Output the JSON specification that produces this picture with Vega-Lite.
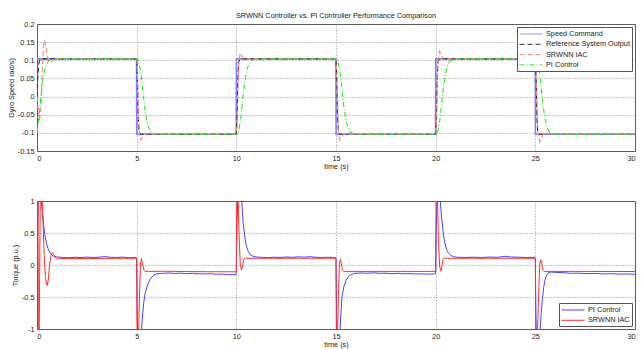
{
  "$schema": "https://vega.github.io/schema/vega-lite/v6.json",
  "background": "white",
  "padding": {"left": 6, "top": 11, "right": 2, "bottom": 2},
  "bounds": "flush",
  "spacing": 50,
  "resolve": {"scale": {"color": "independent", "strokeDash": "independent"}, "legend": {"color": "independent", "strokeDash": "independent"}},
  "config": {
    "font": "Liberation Sans",
    "view": {"stroke": "#555555", "strokeWidth": 1},
    "axis": {"labelFontSize": 7.3, "titleFontSize": 7.3, "titleFontWeight": "normal", "labelColor": "#222222", "titleColor": "#222222", "grid": true, "gridColor": "#777777", "gridDash": [1, 2], "gridWidth": 0.8, "ticks": false, "tickSize": 0, "domain": false, "labelPadding": 3},
    "legend": {"labelFontSize": 7.3, "labelColor": "#222222", "strokeColor": "#555555", "fillColor": "white", "padding": 2, "symbolSize": 81, "symbolStrokeWidth": 1, "rowPadding": 1.3, "labelOffset": 17, "cornerRadius": 0},
    "title": {"fontSize": 7.3, "fontWeight": "normal", "color": "#222222", "offset": 1}
  },
  "datasets": {
    "top": [
      {"t":0,"v":0.104,"s":"Speed Command"},{"t":4.995,"v":0.104,"s":"Speed Command"},{"t":5.005,"v":-0.104,"s":"Speed Command"},{"t":9.995,"v":-0.104,"s":"Speed Command"},{"t":10.005,"v":0.104,"s":"Speed Command"},{"t":14.995,"v":0.104,"s":"Speed Command"},{"t":15.005,"v":-0.104,"s":"Speed Command"},{"t":19.995,"v":-0.104,"s":"Speed Command"},{"t":20.005,"v":0.104,"s":"Speed Command"},{"t":24.995,"v":0.104,"s":"Speed Command"},{"t":25.005,"v":-0.104,"s":"Speed Command"},{"t":30,"v":-0.104,"s":"Speed Command"},

      {"t":0,"v":0,"s":"Reference System Output"},{"t":0.04,"v":0.055,"s":"Reference System Output"},{"t":0.08,"v":0.085,"s":"Reference System Output"},{"t":0.12,"v":0.099,"s":"Reference System Output"},{"t":0.2,"v":0.104,"s":"Reference System Output"},
      {"t":5,"v":0.104,"s":"Reference System Output"},{"t":5.04,"v":0.05,"s":"Reference System Output"},{"t":5.08,"v":-0.06,"s":"Reference System Output"},{"t":5.12,"v":-0.097,"s":"Reference System Output"},{"t":5.2,"v":-0.104,"s":"Reference System Output"},
      {"t":10,"v":-0.104,"s":"Reference System Output"},{"t":10.04,"v":-0.05,"s":"Reference System Output"},{"t":10.08,"v":0.06,"s":"Reference System Output"},{"t":10.12,"v":0.097,"s":"Reference System Output"},{"t":10.2,"v":0.104,"s":"Reference System Output"},
      {"t":15,"v":0.104,"s":"Reference System Output"},{"t":15.04,"v":0.05,"s":"Reference System Output"},{"t":15.08,"v":-0.06,"s":"Reference System Output"},{"t":15.12,"v":-0.097,"s":"Reference System Output"},{"t":15.2,"v":-0.104,"s":"Reference System Output"},
      {"t":20,"v":-0.104,"s":"Reference System Output"},{"t":20.04,"v":-0.05,"s":"Reference System Output"},{"t":20.08,"v":0.06,"s":"Reference System Output"},{"t":20.12,"v":0.097,"s":"Reference System Output"},{"t":20.2,"v":0.104,"s":"Reference System Output"},
      {"t":25,"v":0.104,"s":"Reference System Output"},{"t":25.04,"v":0.05,"s":"Reference System Output"},{"t":25.08,"v":-0.06,"s":"Reference System Output"},{"t":25.12,"v":-0.097,"s":"Reference System Output"},{"t":25.2,"v":-0.104,"s":"Reference System Output"},
      {"t":30,"v":-0.104,"s":"Reference System Output"},

      {"t":0,"v":0,"s":"SRWNN IAC"},{"t":0.06,"v":-0.035,"s":"SRWNN IAC"},{"t":0.12,"v":-0.065,"s":"SRWNN IAC"},{"t":0.18,"v":-0.04,"s":"SRWNN IAC"},{"t":0.25,"v":0.05,"s":"SRWNN IAC"},{"t":0.3,"v":0.12,"s":"SRWNN IAC"},{"t":0.36,"v":0.155,"s":"SRWNN IAC"},{"t":0.42,"v":0.148,"s":"SRWNN IAC"},{"t":0.5,"v":0.118,"s":"SRWNN IAC"},{"t":0.58,"v":0.098,"s":"SRWNN IAC"},{"t":0.66,"v":0.093,"s":"SRWNN IAC"},{"t":0.78,"v":0.099,"s":"SRWNN IAC"},{"t":0.92,"v":0.106,"s":"SRWNN IAC"},{"t":1.1,"v":0.105,"s":"SRWNN IAC"},{"t":1.3,"v":0.104,"s":"SRWNN IAC"},
      {"t":5,"v":0.104,"s":"SRWNN IAC"},{"t":5.04,"v":0.07,"s":"SRWNN IAC"},{"t":5.08,"v":-0.02,"s":"SRWNN IAC"},{"t":5.12,"v":-0.09,"s":"SRWNN IAC"},{"t":5.19,"v":-0.12,"s":"SRWNN IAC"},{"t":5.27,"v":-0.114,"s":"SRWNN IAC"},{"t":5.35,"v":-0.104,"s":"SRWNN IAC"},{"t":5.45,"v":-0.101,"s":"SRWNN IAC"},{"t":5.6,"v":-0.104,"s":"SRWNN IAC"},
      {"t":10,"v":-0.104,"s":"SRWNN IAC"},{"t":10.04,"v":-0.07,"s":"SRWNN IAC"},{"t":10.08,"v":0.02,"s":"SRWNN IAC"},{"t":10.12,"v":0.09,"s":"SRWNN IAC"},{"t":10.19,"v":0.12,"s":"SRWNN IAC"},{"t":10.27,"v":0.114,"s":"SRWNN IAC"},{"t":10.35,"v":0.104,"s":"SRWNN IAC"},{"t":10.45,"v":0.101,"s":"SRWNN IAC"},{"t":10.6,"v":0.104,"s":"SRWNN IAC"},
      {"t":15,"v":0.104,"s":"SRWNN IAC"},{"t":15.04,"v":0.07,"s":"SRWNN IAC"},{"t":15.08,"v":-0.02,"s":"SRWNN IAC"},{"t":15.12,"v":-0.09,"s":"SRWNN IAC"},{"t":15.2,"v":-0.12,"s":"SRWNN IAC"},{"t":15.28,"v":-0.114,"s":"SRWNN IAC"},{"t":15.36,"v":-0.104,"s":"SRWNN IAC"},{"t":15.46,"v":-0.101,"s":"SRWNN IAC"},{"t":15.6,"v":-0.104,"s":"SRWNN IAC"},
      {"t":20,"v":-0.104,"s":"SRWNN IAC"},{"t":20.04,"v":-0.07,"s":"SRWNN IAC"},{"t":20.08,"v":0.02,"s":"SRWNN IAC"},{"t":20.12,"v":0.095,"s":"SRWNN IAC"},{"t":20.2,"v":0.125,"s":"SRWNN IAC"},{"t":20.28,"v":0.116,"s":"SRWNN IAC"},{"t":20.36,"v":0.104,"s":"SRWNN IAC"},{"t":20.46,"v":0.101,"s":"SRWNN IAC"},{"t":20.6,"v":0.104,"s":"SRWNN IAC"},
      {"t":25,"v":0.104,"s":"SRWNN IAC"},{"t":25.04,"v":0.07,"s":"SRWNN IAC"},{"t":25.08,"v":-0.02,"s":"SRWNN IAC"},{"t":25.13,"v":-0.095,"s":"SRWNN IAC"},{"t":25.22,"v":-0.125,"s":"SRWNN IAC"},{"t":25.3,"v":-0.116,"s":"SRWNN IAC"},{"t":25.38,"v":-0.104,"s":"SRWNN IAC"},{"t":25.48,"v":-0.101,"s":"SRWNN IAC"},{"t":25.6,"v":-0.104,"s":"SRWNN IAC"},
      {"t":30,"v":-0.104,"s":"SRWNN IAC"},

      {"t":0,"v":-0.1,"s":"PI Control"},{"t":0.06,"v":-0.075,"s":"PI Control"},{"t":0.13,"v":-0.04,"s":"PI Control"},{"t":0.2,"v":0,"s":"PI Control"},{"t":0.3,"v":0.05,"s":"PI Control"},{"t":0.4,"v":0.078,"s":"PI Control"},{"t":0.5,"v":0.092,"s":"PI Control"},{"t":0.6,"v":0.099,"s":"PI Control"},{"t":0.75,"v":0.102,"s":"PI Control"},{"t":0.9,"v":0.104,"s":"PI Control"},
      {"t":5.05,"v":0.104,"s":"PI Control"},{"t":5.1,"v":0.097,"s":"PI Control"},{"t":5.2,"v":0.07,"s":"PI Control"},{"t":5.3,"v":0.02,"s":"PI Control"},{"t":5.4,"v":-0.03,"s":"PI Control"},{"t":5.5,"v":-0.065,"s":"PI Control"},{"t":5.6,"v":-0.086,"s":"PI Control"},{"t":5.7,"v":-0.097,"s":"PI Control"},{"t":5.85,"v":-0.102,"s":"PI Control"},{"t":6,"v":-0.104,"s":"PI Control"},
      {"t":10.05,"v":-0.104,"s":"PI Control"},{"t":10.1,"v":-0.097,"s":"PI Control"},{"t":10.2,"v":-0.07,"s":"PI Control"},{"t":10.3,"v":-0.02,"s":"PI Control"},{"t":10.4,"v":0.03,"s":"PI Control"},{"t":10.5,"v":0.065,"s":"PI Control"},{"t":10.6,"v":0.086,"s":"PI Control"},{"t":10.7,"v":0.097,"s":"PI Control"},{"t":10.85,"v":0.102,"s":"PI Control"},{"t":11,"v":0.104,"s":"PI Control"},
      {"t":15.05,"v":0.104,"s":"PI Control"},{"t":15.1,"v":0.097,"s":"PI Control"},{"t":15.2,"v":0.07,"s":"PI Control"},{"t":15.3,"v":0.02,"s":"PI Control"},{"t":15.4,"v":-0.03,"s":"PI Control"},{"t":15.5,"v":-0.065,"s":"PI Control"},{"t":15.6,"v":-0.086,"s":"PI Control"},{"t":15.7,"v":-0.097,"s":"PI Control"},{"t":15.85,"v":-0.102,"s":"PI Control"},{"t":16,"v":-0.104,"s":"PI Control"},
      {"t":20.05,"v":-0.104,"s":"PI Control"},{"t":20.1,"v":-0.097,"s":"PI Control"},{"t":20.2,"v":-0.07,"s":"PI Control"},{"t":20.3,"v":-0.02,"s":"PI Control"},{"t":20.4,"v":0.03,"s":"PI Control"},{"t":20.5,"v":0.065,"s":"PI Control"},{"t":20.6,"v":0.086,"s":"PI Control"},{"t":20.7,"v":0.097,"s":"PI Control"},{"t":20.85,"v":0.102,"s":"PI Control"},{"t":21,"v":0.104,"s":"PI Control"},
      {"t":25.05,"v":0.104,"s":"PI Control"},{"t":25.1,"v":0.097,"s":"PI Control"},{"t":25.2,"v":0.07,"s":"PI Control"},{"t":25.3,"v":0.02,"s":"PI Control"},{"t":25.4,"v":-0.03,"s":"PI Control"},{"t":25.5,"v":-0.065,"s":"PI Control"},{"t":25.6,"v":-0.086,"s":"PI Control"},{"t":25.7,"v":-0.097,"s":"PI Control"},{"t":25.85,"v":-0.102,"s":"PI Control"},{"t":26,"v":-0.104,"s":"PI Control"},
      {"t":30,"v":-0.104,"s":"PI Control"}
    ],
    "bot": [
      {"t":0,"v":0.1,"s":"PI Control"},{"t":0.04,"v":0.7,"s":"PI Control"},{"t":0.08,"v":1.08,"s":"PI Control"},{"t":0.15,"v":1.15,"s":"PI Control"},{"t":0.22,"v":1.0,"s":"PI Control"},{"t":0.3,"v":0.72,"s":"PI Control"},{"t":0.38,"v":0.5,"s":"PI Control"},{"t":0.46,"v":0.36,"s":"PI Control"},{"t":0.55,"v":0.26,"s":"PI Control"},{"t":0.65,"v":0.19,"s":"PI Control"},{"t":0.75,"v":0.155,"s":"PI Control"},{"t":0.85,"v":0.135,"s":"PI Control"},{"t":1.0,"v":0.125,"s":"PI Control"},{"t":1.3,"v":0.118,"s":"PI Control"},{"t":1.6,"v":0.112,"s":"PI Control"},{"t":1.9,"v":0.122,"s":"PI Control"},{"t":2.2,"v":0.116,"s":"PI Control"},{"t":2.5,"v":0.124,"s":"PI Control"},{"t":2.8,"v":0.118,"s":"PI Control"},{"t":3.1,"v":0.122,"s":"PI Control"},{"t":3.4,"v":0.132,"s":"PI Control"},{"t":3.7,"v":0.12,"s":"PI Control"},{"t":4.0,"v":0.118,"s":"PI Control"},{"t":4.3,"v":0.124,"s":"PI Control"},{"t":4.6,"v":0.114,"s":"PI Control"},{"t":4.98,"v":0.116,"s":"PI Control"},
      {"t":5.0,"v":0.1,"s":"PI Control"},{"t":5.03,"v":-0.8,"s":"PI Control"},{"t":5.06,"v":-1.15,"s":"PI Control"},{"t":5.22,"v":-1.15,"s":"PI Control"},{"t":5.28,"v":-0.85,"s":"PI Control"},{"t":5.35,"v":-0.6,"s":"PI Control"},{"t":5.42,"v":-0.45,"s":"PI Control"},{"t":5.5,"v":-0.36,"s":"PI Control"},{"t":5.6,"v":-0.27,"s":"PI Control"},{"t":5.7,"v":-0.21,"s":"PI Control"},{"t":5.85,"v":-0.16,"s":"PI Control"},{"t":6.0,"v":-0.14,"s":"PI Control"},{"t":6.3,"v":-0.13,"s":"PI Control"},{"t":6.6,"v":-0.125,"s":"PI Control"},{"t":6.9,"v":-0.132,"s":"PI Control"},{"t":7.2,"v":-0.128,"s":"PI Control"},{"t":7.5,"v":-0.135,"s":"PI Control"},{"t":7.8,"v":-0.13,"s":"PI Control"},{"t":8.1,"v":-0.138,"s":"PI Control"},{"t":8.4,"v":-0.14,"s":"PI Control"},{"t":8.7,"v":-0.136,"s":"PI Control"},{"t":9.0,"v":-0.145,"s":"PI Control"},{"t":9.3,"v":-0.142,"s":"PI Control"},{"t":9.6,"v":-0.15,"s":"PI Control"},{"t":9.98,"v":-0.152,"s":"PI Control"},
      {"t":10.0,"v":-0.1,"s":"PI Control"},{"t":10.03,"v":0.6,"s":"PI Control"},{"t":10.08,"v":1.15,"s":"PI Control"},{"t":10.25,"v":1.15,"s":"PI Control"},{"t":10.3,"v":0.85,"s":"PI Control"},{"t":10.34,"v":0.66,"s":"PI Control"},{"t":10.42,"v":0.45,"s":"PI Control"},{"t":10.5,"v":0.3,"s":"PI Control"},{"t":10.6,"v":0.21,"s":"PI Control"},{"t":10.7,"v":0.16,"s":"PI Control"},{"t":10.84,"v":0.135,"s":"PI Control"},{"t":11.0,"v":0.125,"s":"PI Control"},{"t":11.3,"v":0.12,"s":"PI Control"},{"t":11.6,"v":0.115,"s":"PI Control"},{"t":11.9,"v":0.122,"s":"PI Control"},{"t":12.2,"v":0.118,"s":"PI Control"},{"t":12.5,"v":0.125,"s":"PI Control"},{"t":12.8,"v":0.12,"s":"PI Control"},{"t":13.1,"v":0.128,"s":"PI Control"},{"t":13.4,"v":0.122,"s":"PI Control"},{"t":13.7,"v":0.13,"s":"PI Control"},{"t":14.0,"v":0.12,"s":"PI Control"},{"t":14.3,"v":0.118,"s":"PI Control"},{"t":14.6,"v":0.122,"s":"PI Control"},{"t":14.98,"v":0.118,"s":"PI Control"},
      {"t":15.0,"v":0.1,"s":"PI Control"},{"t":15.03,"v":-0.8,"s":"PI Control"},{"t":15.06,"v":-1.15,"s":"PI Control"},{"t":15.18,"v":-1.15,"s":"PI Control"},{"t":15.24,"v":-0.8,"s":"PI Control"},{"t":15.3,"v":-0.5,"s":"PI Control"},{"t":15.4,"v":-0.33,"s":"PI Control"},{"t":15.5,"v":-0.24,"s":"PI Control"},{"t":15.6,"v":-0.19,"s":"PI Control"},{"t":15.75,"v":-0.15,"s":"PI Control"},{"t":15.95,"v":-0.13,"s":"PI Control"},{"t":16.3,"v":-0.125,"s":"PI Control"},{"t":16.6,"v":-0.128,"s":"PI Control"},{"t":16.9,"v":-0.122,"s":"PI Control"},{"t":17.2,"v":-0.13,"s":"PI Control"},{"t":17.5,"v":-0.128,"s":"PI Control"},{"t":17.8,"v":-0.135,"s":"PI Control"},{"t":18.1,"v":-0.13,"s":"PI Control"},{"t":18.4,"v":-0.138,"s":"PI Control"},{"t":18.7,"v":-0.135,"s":"PI Control"},{"t":19.0,"v":-0.14,"s":"PI Control"},{"t":19.3,"v":-0.138,"s":"PI Control"},{"t":19.6,"v":-0.142,"s":"PI Control"},{"t":19.98,"v":-0.14,"s":"PI Control"},
      {"t":20.0,"v":-0.1,"s":"PI Control"},{"t":20.03,"v":0.6,"s":"PI Control"},{"t":20.08,"v":1.15,"s":"PI Control"},{"t":20.2,"v":1.15,"s":"PI Control"},{"t":20.28,"v":0.8,"s":"PI Control"},{"t":20.38,"v":0.5,"s":"PI Control"},{"t":20.46,"v":0.34,"s":"PI Control"},{"t":20.55,"v":0.24,"s":"PI Control"},{"t":20.65,"v":0.18,"s":"PI Control"},{"t":20.75,"v":0.15,"s":"PI Control"},{"t":20.9,"v":0.13,"s":"PI Control"},{"t":21.1,"v":0.12,"s":"PI Control"},{"t":21.5,"v":0.118,"s":"PI Control"},{"t":21.9,"v":0.122,"s":"PI Control"},{"t":22.3,"v":0.118,"s":"PI Control"},{"t":22.7,"v":0.125,"s":"PI Control"},{"t":23.1,"v":0.12,"s":"PI Control"},{"t":23.5,"v":0.135,"s":"PI Control"},{"t":23.8,"v":0.125,"s":"PI Control"},{"t":24.1,"v":0.122,"s":"PI Control"},{"t":24.5,"v":0.118,"s":"PI Control"},{"t":24.98,"v":0.12,"s":"PI Control"},
      {"t":25.0,"v":0.1,"s":"PI Control"},{"t":25.03,"v":-0.8,"s":"PI Control"},{"t":25.06,"v":-1.15,"s":"PI Control"},{"t":25.22,"v":-1.15,"s":"PI Control"},{"t":25.28,"v":-0.8,"s":"PI Control"},{"t":25.35,"v":-0.55,"s":"PI Control"},{"t":25.42,"v":-0.35,"s":"PI Control"},{"t":25.48,"v":-0.24,"s":"PI Control"},{"t":25.56,"v":-0.16,"s":"PI Control"},{"t":25.65,"v":-0.12,"s":"PI Control"},{"t":25.8,"v":-0.11,"s":"PI Control"},{"t":26.0,"v":-0.115,"s":"PI Control"},{"t":26.4,"v":-0.12,"s":"PI Control"},{"t":26.8,"v":-0.13,"s":"PI Control"},{"t":27.2,"v":-0.128,"s":"PI Control"},{"t":27.6,"v":-0.135,"s":"PI Control"},{"t":28.0,"v":-0.132,"s":"PI Control"},{"t":28.4,"v":-0.14,"s":"PI Control"},{"t":28.8,"v":-0.135,"s":"PI Control"},{"t":29.2,"v":-0.142,"s":"PI Control"},{"t":29.6,"v":-0.14,"s":"PI Control"},{"t":30,"v":-0.145,"s":"PI Control"},

      {"t":0,"v":0,"s":"SRWNN IAC"},{"t":0.02,"v":1.15,"s":"SRWNN IAC"},{"t":0.05,"v":1.15,"s":"SRWNN IAC"},{"t":0.07,"v":-1.15,"s":"SRWNN IAC"},{"t":0.11,"v":-1.15,"s":"SRWNN IAC"},{"t":0.14,"v":0.2,"s":"SRWNN IAC"},{"t":0.17,"v":1.15,"s":"SRWNN IAC"},{"t":0.25,"v":1.15,"s":"SRWNN IAC"},{"t":0.3,"v":0.7,"s":"SRWNN IAC"},{"t":0.36,"v":0.15,"s":"SRWNN IAC"},{"t":0.42,"v":-0.18,"s":"SRWNN IAC"},{"t":0.48,"v":-0.3,"s":"SRWNN IAC"},{"t":0.52,"v":-0.32,"s":"SRWNN IAC"},{"t":0.57,"v":-0.22,"s":"SRWNN IAC"},{"t":0.63,"v":0.0,"s":"SRWNN IAC"},{"t":0.7,"v":0.15,"s":"SRWNN IAC"},{"t":0.77,"v":0.2,"s":"SRWNN IAC"},{"t":0.85,"v":0.16,"s":"SRWNN IAC"},{"t":0.93,"v":0.11,"s":"SRWNN IAC"},{"t":1.02,"v":0.09,"s":"SRWNN IAC"},{"t":1.15,"v":0.1,"s":"SRWNN IAC"},{"t":4.98,"v":0.105,"s":"SRWNN IAC"},
      {"t":5.0,"v":0.1,"s":"SRWNN IAC"},{"t":5.02,"v":-1.15,"s":"SRWNN IAC"},{"t":5.09,"v":-1.15,"s":"SRWNN IAC"},{"t":5.14,"v":-0.5,"s":"SRWNN IAC"},{"t":5.19,"v":0.0,"s":"SRWNN IAC"},{"t":5.24,"v":0.1,"s":"SRWNN IAC"},{"t":5.29,"v":0.03,"s":"SRWNN IAC"},{"t":5.35,"v":-0.07,"s":"SRWNN IAC"},{"t":5.42,"v":-0.1,"s":"SRWNN IAC"},{"t":5.6,"v":-0.1,"s":"SRWNN IAC"},{"t":6.5,"v":-0.098,"s":"SRWNN IAC"},{"t":7.5,"v":-0.102,"s":"SRWNN IAC"},{"t":8.5,"v":-0.105,"s":"SRWNN IAC"},{"t":9.98,"v":-0.106,"s":"SRWNN IAC"},
      {"t":10.0,"v":-0.1,"s":"SRWNN IAC"},{"t":10.02,"v":1.15,"s":"SRWNN IAC"},{"t":10.08,"v":1.15,"s":"SRWNN IAC"},{"t":10.14,"v":0.45,"s":"SRWNN IAC"},{"t":10.2,"v":0.0,"s":"SRWNN IAC"},{"t":10.26,"v":-0.08,"s":"SRWNN IAC"},{"t":10.31,"v":-0.02,"s":"SRWNN IAC"},{"t":10.37,"v":0.09,"s":"SRWNN IAC"},{"t":10.45,"v":0.108,"s":"SRWNN IAC"},{"t":10.6,"v":0.105,"s":"SRWNN IAC"},{"t":14.98,"v":0.105,"s":"SRWNN IAC"},
      {"t":15.0,"v":0.1,"s":"SRWNN IAC"},{"t":15.02,"v":-1.15,"s":"SRWNN IAC"},{"t":15.07,"v":-1.15,"s":"SRWNN IAC"},{"t":15.12,"v":-0.5,"s":"SRWNN IAC"},{"t":15.17,"v":0.0,"s":"SRWNN IAC"},{"t":15.22,"v":0.095,"s":"SRWNN IAC"},{"t":15.27,"v":0.02,"s":"SRWNN IAC"},{"t":15.32,"v":-0.08,"s":"SRWNN IAC"},{"t":15.4,"v":-0.1,"s":"SRWNN IAC"},{"t":17,"v":-0.1,"s":"SRWNN IAC"},{"t":19.98,"v":-0.1,"s":"SRWNN IAC"},
      {"t":20.0,"v":-0.1,"s":"SRWNN IAC"},{"t":20.02,"v":1.15,"s":"SRWNN IAC"},{"t":20.08,"v":1.15,"s":"SRWNN IAC"},{"t":20.14,"v":0.4,"s":"SRWNN IAC"},{"t":20.2,"v":-0.02,"s":"SRWNN IAC"},{"t":20.26,"v":-0.095,"s":"SRWNN IAC"},{"t":20.31,"v":-0.02,"s":"SRWNN IAC"},{"t":20.37,"v":0.09,"s":"SRWNN IAC"},{"t":20.45,"v":0.108,"s":"SRWNN IAC"},{"t":20.6,"v":0.105,"s":"SRWNN IAC"},{"t":24.98,"v":0.105,"s":"SRWNN IAC"},
      {"t":25.0,"v":0.1,"s":"SRWNN IAC"},{"t":25.02,"v":-1.15,"s":"SRWNN IAC"},{"t":25.1,"v":-1.15,"s":"SRWNN IAC"},{"t":25.16,"v":-0.5,"s":"SRWNN IAC"},{"t":25.22,"v":0.0,"s":"SRWNN IAC"},{"t":25.27,"v":0.085,"s":"SRWNN IAC"},{"t":25.32,"v":0.02,"s":"SRWNN IAC"},{"t":25.38,"v":-0.07,"s":"SRWNN IAC"},{"t":25.45,"v":-0.1,"s":"SRWNN IAC"},{"t":27,"v":-0.1,"s":"SRWNN IAC"},{"t":30,"v":-0.102,"s":"SRWNN IAC"}
    ]
  },
  "vconcat": [
    {
      "width": 598,
      "height": 127,
      "title": {"text": "SRWNN Controller vs. PI Controller Performance Comparison", "anchor": "middle"},
      "data": {"name": "top"},
      "encoding": {
        "x": {"field": "t", "type": "quantitative", "scale": {"domain": [0, 30], "nice": false, "zero": false}, "axis": {"values": [0, 5, 10, 15, 20, 25, 30], "title": "time (s)", "labelPadding": 3, "titlePadding": 1}},
        "y": {"field": "v", "type": "quantitative", "scale": {"domain": [-0.15, 0.2], "nice": false, "zero": false}, "axis": {"values": [-0.15, -0.1, -0.05, 0, 0.05, 0.1, 0.15, 0.2], "labelExpr": "'' + datum.value", "title": "Gyro Speed rad/s)", "titlePadding": 2}},
        "color": {"field": "s", "type": "nominal", "scale": {"domain": ["Speed Command", "Reference System Output", "SRWNN IAC", "PI Control"], "range": ["#7f7fff", "#333333", "#ff8080", "#22ee22"]}, "legend": {"title": null, "orient": "top-right", "offset": 3, "symbolType": "M-1,0H4.1", "symbolSize": 81, "labelOffset": 17}},
        "strokeDash": {"field": "s", "type": "nominal", "scale": {"domain": ["Speed Command", "Reference System Output", "SRWNN IAC", "PI Control"], "range": [[1, 0], [5, 3], [5, 3], [5, 2, 1, 2]]}, "legend": {"title": null, "orient": "top-right", "offset": 3, "symbolType": "M-1,0H4.1", "symbolSize": 81, "labelOffset": 17}}
      },
      "layer": [
        {"transform": [{"filter": "datum.s === 'Speed Command'"}], "mark": {"type": "line", "clip": true, "strokeWidth": 1.6}},
        {"transform": [{"filter": "datum.s !== 'Speed Command'"}], "mark": {"type": "line", "clip": true, "strokeWidth": 1.1}}
      ]
    },
    {
      "width": 598,
      "height": 128,
      "data": {"name": "bot"},
      "mark": {"type": "line", "clip": true, "strokeWidth": 1},
      "encoding": {
        "x": {"field": "t", "type": "quantitative", "scale": {"domain": [0, 30], "nice": false, "zero": false}, "axis": {"values": [0, 5, 10, 15, 20, 25, 30], "title": "time (s)", "labelPadding": 3, "titlePadding": 1}},
        "y": {"field": "v", "type": "quantitative", "scale": {"domain": [-1, 1], "nice": false, "zero": false}, "axis": {"values": [-1, -0.5, 0, 0.5, 1], "labelExpr": "'' + datum.value", "title": "Torque (p.u.)", "titlePadding": 2}},
        "color": {"field": "s", "type": "nominal", "scale": {"domain": ["PI Control", "SRWNN IAC"], "range": ["#4444ff", "#ff3030"]}, "legend": {"title": null, "orient": "bottom-right", "offset": 3, "symbolType": "M-1,0H4.1", "symbolSize": 81, "labelOffset": 17}}
      }
    }
  ]
}
